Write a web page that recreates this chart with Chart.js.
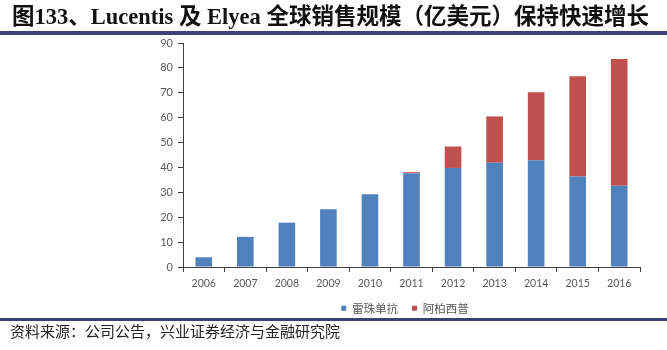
<!DOCTYPE html>
<html><head><meta charset="utf-8">
<script src="https://cdn.jsdelivr.net/npm/chart.js@4"></script>
<style>
body{margin:0;width:667px;height:350px;background:#fff;position:relative;overflow:hidden}
#title{position:absolute;left:12px;top:4px;font:bold 22.5px "Liberation Serif","Noto Sans CJK SC";white-space:nowrap;color:#111;line-height:26px}
#tl{position:absolute;left:0;top:31px;width:667px;height:4px;background:#3d4074}
#fl{position:absolute;left:0;top:318px;width:667px;height:3px;background:#3d4074}
#foot{position:absolute;left:10px;top:321px;font:15px "Noto Sans CJK SC";color:#222;white-space:nowrap;line-height:20px}
#wrap{position:absolute;left:0;top:0;width:667px;height:350px}
</style></head>
<body>
<div id="wrap"><canvas id="c" width="667" height="350"></canvas></div>
<div id="title">图133、Lucentis 及 Elyea 全球销售规模（亿美元）保持快速增长</div>
<div id="tl"></div>
<div id="fl"></div>
<div id="foot">资料来源：公司公告，兴业证券经济与金融研究院</div>
<script>
const years = ['2006','2007','2008','2009','2010','2011','2012','2013','2014','2015','2016'];
const lucentis = [3.9, 12.1, 17.8, 23.2, 29.2, 37.7, 39.8, 41.9, 42.9, 36.4, 32.6];
const eylea = [0, 0, 0, 0, 0, 0.4, 8.6, 18.6, 27.3, 40.2, 51.0];
const seriesNames = ['雷珠单抗', '阿柏西普'];
const yTicks = [0,10,20,30,40,50,60,70,80,90];

const axisColor = '#404040';
const labelColor = '#595959';
new Chart(document.getElementById('c'), {
  type: 'bar',
  data: {
    labels: years,
    datasets: [
      {label: seriesNames[0], data: lucentis, backgroundColor: '#4f81bd', borderWidth: 0},
      {label: seriesNames[1], data: eylea, backgroundColor: '#c0504d', borderWidth: 0}
    ]
  },
  options: {
    responsive: false,
    animation: false,
    devicePixelRatio: 1,
    layout: {padding: {left: 143, top: 43, right: 0, bottom: 26}},
    datasets: {bar: {categoryPercentage: 1, barPercentage: 0.4}},
    plugins: {
      legend: {
        position: 'bottom',
        labels: {boxWidth: 5, boxHeight: 5, padding: 14, color: labelColor,
          font: {family: '"Noto Sans CJK SC"', size: 11.5}}
      },
      tooltip: {enabled: false}
    },
    scales: {
      x: {
        stacked: true,
        afterFit: s => { s.height = 21.5; },
        border: {color: axisColor, width: 1},
        grid: {display: true, drawOnChartArea: false, drawTicks: true, tickLength: 5, color: axisColor, offset: true},
        ticks: {color: labelColor, padding: 5, font: {family: 'Lato', size: 10.5}}
      },
      y: {
        stacked: true,
        min: 0, max: 90,
        afterFit: s => { s.width = 40; },
        afterBuildTicks: s => { s.ticks = yTicks.map(v => ({value: v})); },
        border: {color: axisColor, width: 1},
        grid: {display: true, drawOnChartArea: false, drawTicks: true, tickLength: 5, color: axisColor},
        ticks: {color: labelColor, padding: 5, font: {family: 'Lato', size: 11}}
      },
      yRight: {
        type: 'linear', axis: 'y', position: 'right', display: true,
        min: 0, max: 90,
        afterFit: s => { s.width = 27; },
        border: {display: false},
        grid: {display: false, drawTicks: false},
        ticks: {display: false}
      }
    }
  }
});
</script>
</body></html>
